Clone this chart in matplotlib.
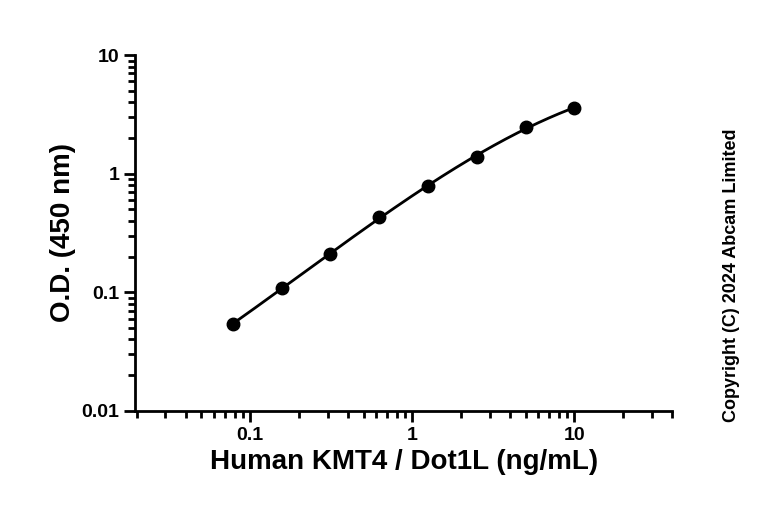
import numpy as np
import matplotlib
matplotlib.use("Agg")
import matplotlib.pyplot as plt

# standard curve values
conc = [0.078, 0.156, 0.3125, 0.625, 1.25, 2.5, 5, 10]
od = [0.054, 0.108, 0.21, 0.43, 0.79, 1.38, 2.5, 3.56]

plt.rcParams['font.family'] = ['Liberation Sans', 'DejaVu Sans']
plt.rcParams['font.weight'] = 'bold'

fig = plt.figure(figsize=(7.68, 5.2), dpi=100)
ax = fig.add_axes([0.176, 0.21, 0.699, 0.684])

# smooth fit in log-log space
lx, ly = np.log10(conc), np.log10(od)
coef = np.polyfit(lx, ly, 3)
xs = np.linspace(lx[0], lx[-1], 200)
ax.plot(10 ** xs, 10 ** np.polyval(coef, xs), color='black', lw=2)
ax.plot(conc, od, 'o', color='black', ms=9)

ax.set_xscale('log')
ax.set_yscale('log')
ax.set_xlim(0.0195, 40)
ax.set_ylim(0.01, 10)
ax.set_xticks([0.1, 1, 10])
ax.set_xticklabels(['0.1', '1', '10'])
ax.set_yticks([0.01, 0.1, 1, 10])
ax.set_yticklabels(['0.01', '0.1', '1', '10'])
ax.minorticks_on()
ax.tick_params(which='major', length=8, width=2, labelsize=14)
ax.tick_params(which='minor', length=5, width=2)
for s in ['top', 'right']:
    ax.spines[s].set_visible(False)
for s in ['left', 'bottom']:
    ax.spines[s].set_linewidth(2)

ax.set_xlabel('Human KMT4 / Dot1L (ng/mL)', fontsize=20, fontweight='bold')
ax.set_ylabel('O.D. (450 nm)', fontsize=20, fontweight='bold')
fig.text(0.952, 0.47, 'Copyright (C) 2024 Abcam Limited', rotation=90,
         ha='center', va='center', fontsize=13, fontweight='bold')

fig.savefig('out.png', dpi=100)
